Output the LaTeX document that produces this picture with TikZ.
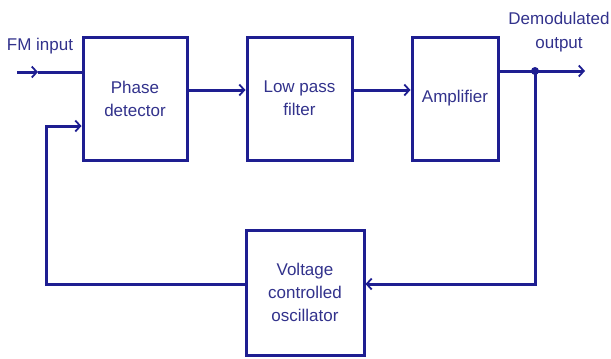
\documentclass[tikz,border=0pt]{standalone}
\usepackage{fontspec}
\setmainfont{Liberation Sans}
\usetikzlibrary{positioning,arrows.meta,calc}
\definecolor{wire}{RGB}{30,30,145}
\definecolor{lbl}{RGB}{50,50,140}

\begin{document}
\begin{tikzpicture}[
  x=1pt, y=-1pt,
  >={Straight Barb[length=5pt,width=11pt,line width=1.8pt]},
  blk/.style={draw=wire, line width=3pt, fill=white, align=center, inner sep=0pt,
              text=lbl, font=\fontsize{17}{23}\selectfont},
  sig/.style={draw=wire, line width=3pt},
  tag/.style={text=lbl, align=center, inner sep=0pt, font=\fontsize{17}{24}\selectfont},
]
\useasboundingbox (0,0) rectangle (611,359);

% ---- the blocks ----
\node[blk, minimum width=104pt, minimum height=123pt] (pd)  at (135,98.5)   {Phase\\detector};
\node[blk, minimum width=105pt, minimum height=123pt] (lpf) at (299.5,98.5) {Low pass\\filter};
\node[blk, minimum width=86pt,  minimum height=123pt] (amp) at (455,98.5)   {Amplifier};
\node[blk, minimum width=118pt, minimum height=125pt] (vco) at (305,292.5)  {Voltage\\controlled\\oscillator};

% ---- labels ----
\node[tag] (fmlbl)  at (40,46)  {FM input};
\node[tag] (outlbl) at (559,32) {Demodulated\\output};

% ---- points on the wires ----
\coordinate (fmin)   at (17,72);
\coordinate (fmmid)  at (38,72);
\coordinate (split)  at (535,71);
\coordinate (outend) at (585,71);
\coordinate (cornR)  at (535,284);
\coordinate (cornL)  at (46,284);
\coordinate (cornUp) at (46,126);

% ============ connectors ============
% input into phase detector
\draw[sig, ->] (fmin) -- (fmmid);
\draw[sig] (fmmid) -- (fmmid -| pd.west);

% forward chain
\draw[sig, ->] (pd.east |- 0,90) -- (lpf.west |- 0,90);
\draw[sig, ->] (lpf.east |- 0,90) -- (amp.west |- 0,90);
\draw[sig, ->] (amp.east |- split) -- (outend);
\fill[wire] (split) circle (4pt);

% feedback through the VCO
\draw[sig, ->] (split) -- (cornR) -- (cornR -| vco.east);
\draw[sig, ->] (cornL -| vco.west) -- (cornL) -- (cornUp) -- (cornUp -| pd.west);

\end{tikzpicture}
\end{document}
